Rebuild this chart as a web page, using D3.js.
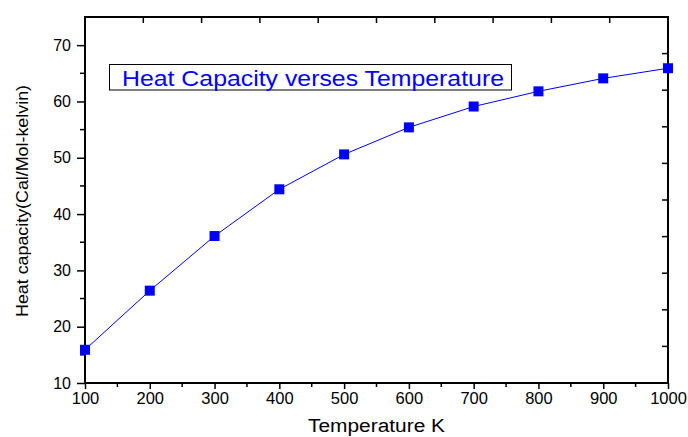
<!DOCTYPE html>
<html><head><meta charset="utf-8">
<script src="https://cdn.jsdelivr.net/npm/d3@7"></script>
<style>body{margin:0;background:#fff}svg{display:block}text{font-family:"Liberation Sans",Arial,sans-serif}</style>
</head><body><svg id="c" width="688" height="437"></svg>
<script>
const temperatures = [100,200,300,400,500,600,700,800,900,1000];
const heatCapacity = [15.9,26.4,36.1,44.4,50.6,55.4,59.1,61.8,64.1,65.9];
const xTicks = [100,200,300,400,500,600,700,800,900,1000];
const yTicks = [10,20,30,40,50,60,70];
const legendLabel = "Heat Capacity verses Temperature";
const xTitle = "Temperature K";
const yTitle = "Heat capacity(Cal/Mol-kelvin)";

const svg = d3.select("#c");
const L=85, R=668, T=17, B=383;
const x = d3.scaleLinear().domain([100,1000]).range([L,R]);
const y = d3.scaleLinear().domain([10,75]).range([B,T]);

// frame
svg.append("rect").attr("x",L).attr("y",T).attr("width",R-L).attr("height",B-T)
  .attr("fill","none").attr("stroke","#000").attr("stroke-width",2);

// bottom axis
const xMinor = d3.range(150,1000,100);
const gx = svg.append("g").attr("transform",`translate(0,${B})`)
  .call(d3.axisBottom(x).tickValues(xTicks).tickSize(6).tickPadding(3).tickFormat(d3.format("d")));
gx.select(".domain").remove();
gx.selectAll("line").attr("stroke-width",1.5);
gx.selectAll("text").attr("font-size",16.5).attr("fill","#000");
svg.append("g").selectAll("line").data(xMinor).join("line")
  .attr("x1",d=>x(d)).attr("x2",d=>x(d)).attr("y1",B).attr("y2",B+4).attr("stroke","#000").attr("stroke-width",1.5);

// left axis
const yMinor = d3.range(15,75,10);
const gy = svg.append("g").attr("transform",`translate(${L},0)`)
  .call(d3.axisLeft(y).tickValues(yTicks).tickSize(8).tickPadding(6));
gy.select(".domain").remove();
gy.selectAll("line").attr("stroke-width",1.5);
gy.selectAll("text").attr("font-size",16).attr("fill","#000");
svg.append("g").selectAll("line").data(yMinor).join("line")
  .attr("x1",L).attr("x2",L-5).attr("y1",d=>y(d)).attr("y2",d=>y(d)).attr("stroke","#000").attr("stroke-width",1.5);

// top and right inward ticks (10 divisions)
const div = d3.range(1,10);
svg.append("g").selectAll("line").data(div).join("line")
  .attr("x1",d=>L+(R-L)*d/10).attr("x2",d=>L+(R-L)*d/10).attr("y1",T).attr("y2",T+6)
  .attr("stroke","#000").attr("stroke-width",1.5);
svg.append("g").selectAll("line").data(div).join("line")
  .attr("y1",d=>T+(B-T)*d/10).attr("y2",d=>T+(B-T)*d/10).attr("x1",R).attr("x2",R-6)
  .attr("stroke","#000").attr("stroke-width",1.5);

// line + markers
const pts = temperatures.map((t,i)=>[t,heatCapacity[i]]);
svg.append("path").datum(pts).attr("fill","none").attr("stroke","#0000ff").attr("stroke-width",1)
  .attr("d",d3.line().x(d=>x(d[0])).y(d=>y(d[1])));
svg.append("g").selectAll("rect").data(pts).join("rect")
  .attr("x",d=>x(d[0])-5).attr("y",d=>y(d[1])-5).attr("width",10).attr("height",10).attr("fill","#0000ff");

// legend box
svg.append("rect").attr("x",109.5).attr("y",64.5).attr("width",402).attr("height",25.5)
  .attr("fill","#fff").attr("stroke","#000").attr("stroke-width",1);
svg.append("text").attr("x",122).attr("y",85.5).attr("font-size",21.5).attr("fill","#0000ff")
  .attr("textLength",382).attr("lengthAdjust","spacingAndGlyphs").text(legendLabel);

// titles
svg.append("text").attr("x",376.5).attr("y",432).attr("text-anchor","middle").attr("font-size",18).attr("fill","#000")
  .attr("textLength",137).attr("lengthAdjust","spacingAndGlyphs").text(xTitle);
svg.append("text").attr("transform","translate(28,201) rotate(-90)").attr("text-anchor","middle").attr("font-size",17).attr("fill","#000")
  .attr("textLength",232).attr("lengthAdjust","spacingAndGlyphs").text(yTitle);
</script></body></html>
